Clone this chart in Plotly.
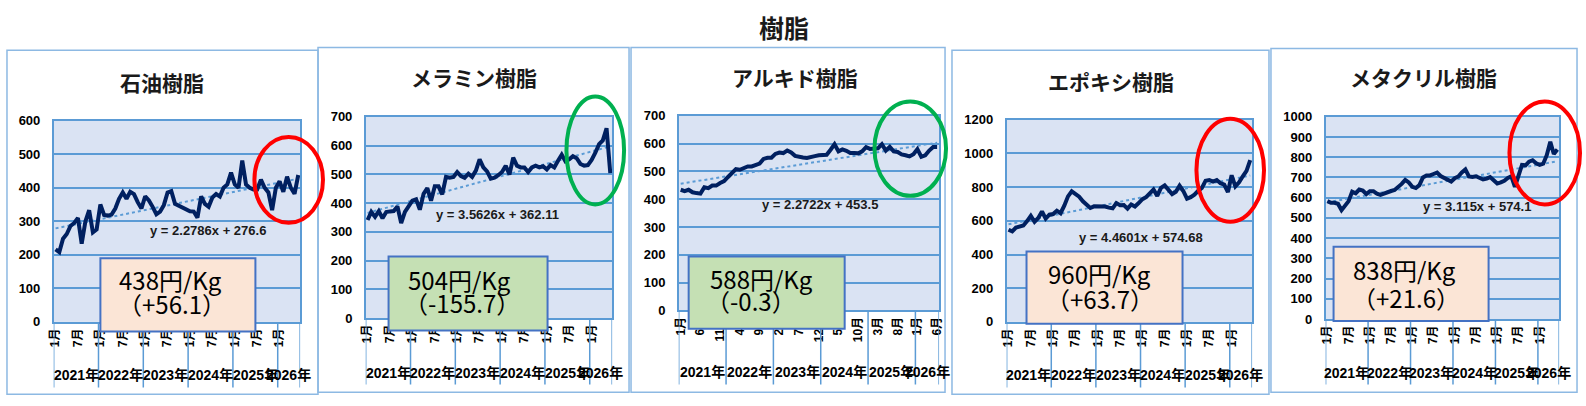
import plotly.graph_objects as go

W, H = 1586, 406

# 月次カテゴリ（2021年1月〜2026年6月）
years = [2021, 2022, 2023, 2024, 2025, 2026]
months_per_year = [12, 12, 12, 12, 12, 6]

# 各樹脂の月次価格（円/Kg）
petroleum = [216, 208, 248, 262, 286, 295, 310, 233, 300, 333, 267, 276,
             350, 319, 317, 320, 338, 367, 386, 367, 388, 381, 357, 338,
             374, 362, 343, 321, 329, 348, 386, 390, 352, 346, 340, 333,
             330, 329, 311, 374, 352, 343, 371, 381, 374, 400, 410, 445,
             410, 400, 481, 410, 400, 395, 395, 424, 400, 386, 333, 400,
             419, 388, 433, 400, 382, 438]
melamine = [341, 369, 352, 372, 347, 369, 371, 372, 388, 330, 369, 391,
            408, 413, 377, 432, 452, 408, 458, 458, 430, 491, 488, 491,
            508, 494, 488, 502, 491, 513, 552, 524, 510, 485, 488, 497,
            508, 530, 499, 558, 530, 524, 524, 508, 524, 530, 524, 528,
            517, 532, 524, 547, 568, 545, 552, 563, 556, 536, 530, 532,
            550, 575, 605, 618, 660, 504]
alkyd = [434, 429, 434, 425, 422, 420, 443, 440, 449, 449, 458, 465,
         480, 492, 508, 506, 512, 518, 518, 523, 528, 545, 549, 549,
         563, 568, 566, 575, 568, 556, 552, 550, 548, 550, 555, 558,
         558, 560, 578, 598, 572, 579, 574, 566, 566, 565, 572, 587,
         581, 581, 583, 598, 575, 588, 572, 570, 561, 558, 554, 562,
         580, 553, 558, 575, 588, 588]
epoxy = [547, 537, 560, 566, 572, 598, 629, 594, 617, 655, 613, 636,
         640, 660, 645, 690, 745, 775, 756, 743, 716, 695, 676, 686,
         685, 685, 685, 678, 674, 705, 692, 693, 672, 697, 685, 705,
         728, 740, 764, 785, 748, 795, 810, 780, 758, 772, 808, 777,
         731, 740, 755, 778, 795, 838, 842, 833, 842, 823, 815, 770,
         870, 804, 828, 864, 896, 960]
methacryl = [583, 575, 575, 570, 538, 559, 583, 630, 622, 640, 635, 618,
             632, 632, 620, 614, 622, 627, 633, 638, 650, 668, 688, 675,
             654, 648, 662, 700, 710, 710, 717, 724, 707, 697, 689, 680,
             696, 705, 725, 740, 705, 702, 706, 697, 690, 694, 702, 686,
             670, 676, 684, 698, 706, 654, 710, 762, 760, 778, 785, 770,
             762, 768, 810, 876, 816, 838]

series = [petroleum, melamine, alkyd, epoxy, methacryl]
names = ["石油樹脂", "メラミン樹脂", "アルキド樹脂", "エポキシ樹脂", "メタクリル樹脂"]
trend_slope = [2.2786, 3.5626, 2.2722, 4.4601, 3.115]
trend_intercept = [276.6, 362.11, 453.5, 574.68, 574.1]
trend_text = ["y = 2.2786x + 276.6", "y = 3.5626x + 362.11", "y = 2.2722x + 453.5",
              "y = 4.4601x + 574.68", "y = 3.115x + 574.1"]
price_text = ["438円/Kg", "504円/Kg", "588円/Kg", "960円/Kg", "838円/Kg"]
change_text = ["（+56.1）", "（-155.7）", "（-0.3）", "（+63.7）", "（+21.6）"]
y_max = [600, 700, 700, 1200, 1000]
y_step = [100, 100, 100, 200, 100]
label_step = [6, 6, 5, 6, 6]

# 画面上の配置（ピクセル）
panels = [
    dict(frame=(2, 45, 315, 402), plot=(49, 118, 297, 327), title=(158, 78), eq=(204, 232),
         box=(96, 261, 252, 337), t1=(167, 283), t2=(168, 308), ell=(251, 135, 320, 224),
         ycat=382, sep=395),
    dict(frame=(315, 42, 628, 400), plot=(363, 114, 611, 323), title=(472, 73), eq=(496, 215),
         box=(386, 259, 546, 336), t1=(457, 283), t2=(460, 307), ell=(565, 93, 623, 205),
         ycat=380, sep=392),
    dict(frame=(630, 42, 946, 400), plot=(678, 113, 940, 315), title=(795, 73), eq=(820, 205),
         box=(688, 259, 845, 334), t1=(761, 282), t2=(751, 305), ell=(875, 98, 947, 196),
         ycat=379, sep=392),
    dict(frame=(953, 45, 1272, 402), plot=(1008, 117, 1255, 327), title=(1113, 77), eq=(1143, 239),
         box=(1028, 254, 1185, 329), t1=(1101, 277), t2=(1102, 303), ell=(1199, 116, 1267, 223),
         ycat=382, sep=395),
    dict(frame=(1274, 43, 1582, 400), plot=(1329, 114, 1564, 324), title=(1428, 73), eq=(1481, 207),
         box=(1337, 249, 1493, 326), t1=(1408, 273), t2=(1410, 302), ell=(1514, 98, 1585, 205),
         ycat=380, sep=392),
]
box_fill = ["#fbe5d6", "#c5e0b4", "#c5e0b4", "#fbe5d6", "#fbe5d6"]
ell_color = ["#ff0000", "#00b050", "#00b050", "#ff0000", "#ff0000"]

NAVY = "#002060"
GRID = "#5b9bd5"
FRAME = "#8db9e3"
NUM_FONT = "Liberation Sans, Noto Sans CJK JP"
JP_FONT = "Noto Sans CJK JP"


def px(x):
    return x / W


def py(y):
    return 1 - y / H


def label(x, y, text, font, xref="paper"):
    return dict(xref=xref, yref="paper", x=x, y=y, text=text, showarrow=False,
                xanchor="center", yanchor="middle", font=font)


cats = [(yr, m) for yr, n in zip(years, months_per_year) for m in range(1, n + 1)]
xs = list(range(len(cats)))

fig = go.Figure()
shapes = []
annotations = []

for k, (vals, p) in enumerate(zip(series, panels)):
    sfx = "" if k == 0 else str(k + 1)
    xa, ya = "x" + sfx, "y" + sfx
    l, t, r, b = p["plot"]

    trend = [trend_slope[k] * (i + 1) + trend_intercept[k] for i in xs]
    fig.add_trace(go.Scatter(x=xs, y=trend, mode="lines", xaxis=xa, yaxis=ya,
                             line=dict(color=GRID, width=2, dash="dot"), showlegend=False,
                             hoverinfo="skip"))
    fig.add_trace(go.Scatter(x=xs, y=vals, mode="lines", xaxis=xa, yaxis=ya, name=names[k],
                             line=dict(color=NAVY, width=4), showlegend=False))

    tick_idx = xs[::label_step[k]]
    fig.update_layout(**{
        "xaxis" + sfx: dict(domain=[px(l), px(r)], anchor=ya, range=[-0.5, len(xs) - 0.5],
                            tickvals=tick_idx, ticktext=[f"{cats[i][1]}月" for i in tick_idx],
                            tickangle=-90, ticks="", showgrid=False, zeroline=False,
                            showline=True, mirror=True, linecolor=GRID, linewidth=1.5,
                            tickfont=dict(family=NUM_FONT, size=12, color="#000", weight="bold"),
                            fixedrange=True),
        "yaxis" + sfx: dict(domain=[py(b), py(t)], anchor=xa, range=[0, y_max[k]],
                            dtick=y_step[k], showgrid=True, gridcolor=GRID, gridwidth=1.5,
                            zeroline=False, showline=True, mirror=True, linecolor=GRID,
                            linewidth=1.5, ticks="", ticklabelstandoff=9,
                            tickfont=dict(family=NUM_FONT, size=13, color="#000", weight="bold"),
                            fixedrange=True),
    })

    # 枠
    fl, ft, fr, fb = p["frame"]
    shapes.append(dict(type="rect", xref="paper", yref="paper", x0=px(fl), x1=px(fr),
                       y0=py(fb), y1=py(ft), line=dict(color=FRAME, width=1.5), layer="below"))

    # 年の区切りと年ラベル
    start = 0
    for yr, n in zip(years, months_per_year):
        annotations.append(label(start + (n - 1) / 2, py(p["ycat"]), f"{yr}年",
                                 dict(family=NUM_FONT, size=14, color="#000", weight="bold"),
                                 xref=xa))
        start += n
    bounds = [-0.5]
    for n in months_per_year:
        bounds.append(bounds[-1] + n)
    for bx in bounds:
        shapes.append(dict(type="line", xref=xa, yref="paper", x0=bx, x1=bx,
                           y0=py(p["sep"]), y1=py(b), line=dict(color=GRID, width=1.5)))

    # タイトル・近似式
    annotations.append(label(px(p["title"][0]), py(p["title"][1]), names[k],
                             dict(family=JP_FONT, size=21, color="#1a1a1a", weight="bold")))
    annotations.append(label(px(p["eq"][0]), py(p["eq"][1]), trend_text[k],
                             dict(family="Liberation Sans", size=13, color="#1a1a1a",
                                  weight="bold")))

    # 価格ボックス
    bl, bt, br, bb = p["box"]
    shapes.append(dict(type="rect", xref="paper", yref="paper", x0=px(bl), x1=px(br),
                       y0=py(bb), y1=py(bt), fillcolor=box_fill[k],
                       line=dict(color="#4472c4", width=2), layer="above"))
    annotations.append(label(px(p["t1"][0]), py(p["t1"][1]), price_text[k],
                             dict(family=JP_FONT, size=24, color="#000")))
    annotations.append(label(px(p["t2"][0]), py(p["t2"][1]), change_text[k],
                             dict(family=JP_FONT, size=24, color="#000")))

    # 強調の楕円
    el, et, er, eb = p["ell"]
    shapes.append(dict(type="circle", xref="paper", yref="paper", x0=px(el), x1=px(er),
                       y0=py(eb), y1=py(et), line=dict(color=ell_color[k], width=4),
                       layer="above"))

annotations.append(label(px(784), py(21), "樹脂",
                         dict(family=JP_FONT, size=25, color="#1a1a1a", weight="bold")))

fig.update_layout(width=W, height=H, autosize=False, margin=dict(l=0, r=0, t=0, b=0, pad=0),
                  paper_bgcolor="white", plot_bgcolor="#dae3f3",
                  shapes=shapes, annotations=annotations)

# ページの余白とスクロールバーを消して、ウィンドウにぴったり合わせる
fit_page = """
document.documentElement.style.margin = '0';
document.documentElement.style.overflow = 'hidden';
document.body.style.margin = '0';
document.body.style.overflow = 'hidden';
var gd = document.getElementById('{plot_id}');
Plotly.relayout(gd, {width: window.innerWidth, height: window.innerHeight});
"""

fig.write_html("out.html", config={"displayModeBar": False}, post_script=fit_page)
